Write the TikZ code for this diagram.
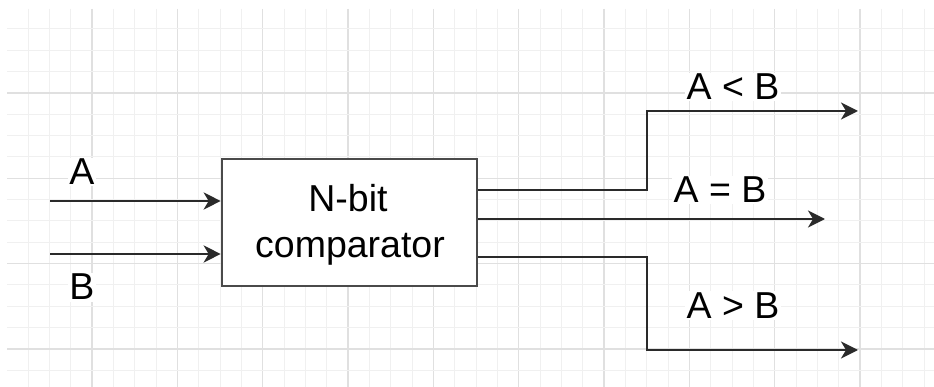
\documentclass[tikz,border=0pt]{standalone}
\usepackage{fontspec}
\setmainfont{Liberation Sans}
\usetikzlibrary{arrows.meta}
\definecolor{gridminor}{HTML}{F0F0F0}
\definecolor{gridmajor}{HTML}{E0E0E0}
\definecolor{wirec}{HTML}{2A2A2A}
\definecolor{boxc}{HTML}{4A4A4A}
\tikzset{
  minorline/.style={gridminor, line width=1pt},
  majorline/.style={gridmajor, line width=1.2pt},
  wire/.style={wirec, line width=2.6pt},
  arr/.style={wire, -{Stealth[length=17pt,width=17pt,inset=5pt]}},
  blockbox/.style={draw=boxc, line width=2.6pt, fill=white, minimum width=255pt, minimum height=127pt, inner sep=0pt},
  lbl/.style={font=\fontsize{37.5}{45}\selectfont, text=black, anchor=base, inner sep=1.5pt, fill=white},
  inlbl/.style={font=\fontsize{37.5}{45}\selectfont, text=black, anchor=base, inner sep=0pt},
}
\begin{document}
\begin{tikzpicture}[x=1pt, y=-1pt]
\useasboundingbox (0,0) rectangle (934,387);
\fill[white] (0,0) rectangle (934,387);
% grid
\begin{scope}
\clip (7,9) rectangle (934,387);
\foreach \i in {0,...,43} {
  \pgfmathtruncatemacro{\m}{mod(\i,4)}
  \ifnum\m=0
    \draw[majorline] ({6.67+21.333*\i},9) -- ({6.67+21.333*\i},387);
  \else
    \draw[minorline] ({6.67+21.333*\i},9) -- ({6.67+21.333*\i},387);
  \fi
}
\foreach \j in {0,...,17} {
  \pgfmathtruncatemacro{\m}{mod(\j,4)}
  \ifnum\m=0
    \draw[majorline] (7,{7.67+21.333*\j}) -- (934,{7.67+21.333*\j});
  \else
    \draw[minorline] (7,{7.67+21.333*\j}) -- (934,{7.67+21.333*\j});
  \fi
}
\end{scope}

% block
\node[blockbox] (cmp) at (349.5,222.5) {};
\node[inlbl] (t1) at (348,212) {N-bit};
\node[inlbl] (t2) at (350,258) {comparator};

% inputs
\coordinate (aIn) at (50,201);
\coordinate (bIn) at (50,254);
\draw[arr] (aIn) -- (aIn -| cmp.west);
\draw[arr] (bIn) -- (bIn -| cmp.west);
\node[lbl] (la) at (82,185) {A};
\node[lbl] (lb) at (82,300) {B};

% outputs
\coordinate (ltBend) at (647,190);
\coordinate (ltEnd) at (858,111);
\coordinate (eqEnd) at (825,219);
\coordinate (gtBend) at (647,257);
\coordinate (gtEnd) at (858,350);
\draw[arr] (ltBend -| cmp.east) -- (ltBend) |- (ltEnd);
\draw[arr] (eqEnd -| cmp.east) -- (eqEnd);
\draw[arr] (gtBend -| cmp.east) -- (gtBend) |- (gtEnd);
\node[lbl] (llt) at (733,100) {A < B};
\node[lbl] (leq) at (720,203) {A = B};
\node[lbl] (lgt) at (733,318) {A > B};
\end{tikzpicture}
\end{document}
